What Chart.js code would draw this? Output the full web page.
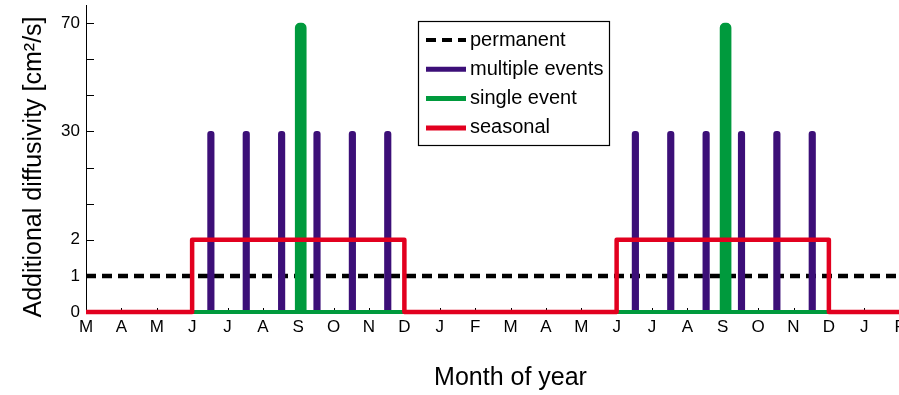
<!DOCTYPE html>
<html lang="en">
<head>
<meta charset="UTF-8">
<title>Additional diffusivity by month</title>
<script src="https://cdn.jsdelivr.net/npm/chart.js"></script>
<style>
  html, body { margin: 0; padding: 0; background: #fff; overflow: hidden; }
  #wrap { position: relative; width: 950px; height: 395px; }
</style>
</head>
<body>
<div id="wrap"><canvas id="diffChart"></canvas></div>
<script>
// two years of months, starting in March
const monthLabels = ['M','A','M','J','J','A','S','O','N','D','J','F',
                     'M','A','M','J','J','A','S','O','N','D','J','F','M'];

// labelled y values and the slot each one takes on the stretched axis
const yTickValues = [0, 1, 2, 30, 70];
const yTickSlots  = [0, 1, 2, 5, 8];

const permanentLevel = 1;

const seasonalStarts = [3, 15];   // June
const seasonalEnds   = [9, 21];   // December
const seasonalLevel  = 2;

const multipleEventMonths = [3.53, 4.53, 5.53, 6.53, 7.53, 8.53, 15.53, 16.53, 17.53, 18.53, 19.53, 20.53];
const multipleEventLevel  = 30;

const singleEventMonths = [6.07, 18.08];   // September
const singleEventLevel  = 70;

const FONT = "'Liberation Sans', Arial, Helvetica, sans-serif";
const xEnd = monthLabels.length - 1;

// piecewise-linear squeeze of diffusivity onto the axis slots
function toSlot(v) {
  for (let i = 1; i < yTickValues.length; i++) {
    if (v <= yTickValues[i]) {
      const a = yTickValues[i - 1], b = yTickValues[i];
      return yTickSlots[i - 1] + (v - a) / (b - a) * (yTickSlots[i] - yTickSlots[i - 1]);
    }
  }
  return yTickSlots[yTickSlots.length - 1];
}
const pt = (x, y) => ({ x: x, y: toSlot(y) });

const permanentData = [pt(0, permanentLevel), pt(xEnd, permanentLevel)];

const seasonalData = [pt(0, 0)];
seasonalStarts.forEach((s, i) => {
  seasonalData.push(pt(s, 0), pt(s, seasonalLevel), pt(seasonalEnds[i], seasonalLevel), pt(seasonalEnds[i], 0));
});
seasonalData.push(pt(xEnd, 0));

const multipleData = multipleEventMonths.map(m => pt(m, multipleEventLevel));
const singleBase = [pt(0, 0), pt(xEnd, 0)];
const singleSpikes = singleEventMonths.map(m => pt(m, singleEventLevel));

const black = '#000000';
const purple = '#3c0f78';
const green = '#009a3d';
const red = '#e2001f';

const lineDefaults = { type: 'line', pointRadius: 0, fill: false, tension: 0, clip: false };
const spikeDefaults = { type: 'bar', grouped: false, borderWidth: 0, borderSkipped: false };

// inward tick marks, the rotated y title and the boxed legend
const axisExtras = {
  id: 'axisExtras',
  beforeDatasetsDraw(chart) {
    const { ctx, chartArea: a, scales } = chart;
    ctx.save();
    ctx.strokeStyle = '#000';
    ctx.lineWidth = 1;
    scales.y.ticks.forEach(t => {
      const y = Math.round(scales.y.getPixelForValue(t.value)) + 0.5;
      ctx.beginPath(); ctx.moveTo(a.left, y); ctx.lineTo(a.left + 8, y); ctx.stroke();
    });
    scales.x.ticks.forEach(t => {
      const x = Math.round(scales.x.getPixelForValue(t.value)) + 0.5;
      ctx.beginPath(); ctx.moveTo(x, a.bottom); ctx.lineTo(x, a.bottom - 4); ctx.stroke();
    });
    ctx.restore();
  },
  afterDraw(chart) {
    const { ctx } = chart;
    ctx.save();
    ctx.translate(34, 167);
    ctx.rotate(-Math.PI / 2);
    ctx.font = '25px ' + FONT;
    ctx.fillStyle = '#000';
    ctx.textAlign = 'center';
    ctx.textBaseline = 'middle';
    ctx.fillText('Additional diffusivity [cm²/s]', 0, 0);
    ctx.restore();

    const items = chart.data.datasets.filter(d => d.inLegend);
    const box = { x: 418, y: 21, w: 191, h: 124 };
    ctx.save();
    ctx.fillStyle = '#fff';
    ctx.fillRect(box.x, box.y, box.w, box.h);
    ctx.strokeStyle = '#000';
    ctx.lineWidth = 1.2;
    ctx.strokeRect(box.x + 0.5, box.y + 0.5, box.w, box.h);
    ctx.font = '20px ' + FONT;
    ctx.textBaseline = 'middle';
    items.forEach((d, i) => {
      const y = box.y + 19 + i * 29.3;
      ctx.beginPath();
      ctx.strokeStyle = d.borderColor;
      ctx.lineWidth = d.legendWidth;
      ctx.setLineDash(d.borderDash || []);
      ctx.moveTo(box.x + 8, y);
      ctx.lineTo(box.x + 48, y);
      ctx.stroke();
      ctx.setLineDash([]);
      ctx.fillStyle = '#000';
      ctx.fillText(d.label, box.x + 52, y);
    });
    ctx.restore();
  }
};

new Chart(document.getElementById('diffChart'), {
  type: 'line',
  data: {
    datasets: [
      Object.assign({ label: 'permanent', data: permanentData, borderColor: black, borderWidth: 4.5,
        borderDash: [10, 6], order: 5, inLegend: true, legendWidth: 4 }, lineDefaults),
      Object.assign({ label: 'multiple events', data: multipleData, backgroundColor: purple, borderColor: purple,
        barThickness: 6.5, borderRadius: { topLeft: 3, topRight: 3, bottomLeft: 0, bottomRight: 0 },
        order: 4, inLegend: true, legendWidth: 5 }, spikeDefaults),
      Object.assign({ label: 'single event', data: singleBase, borderColor: green, borderWidth: 4,
        order: 3, inLegend: true, legendWidth: 5 }, lineDefaults),
      Object.assign({ label: 'single event peak', data: singleSpikes, backgroundColor: green, borderColor: green,
        barThickness: 11, borderRadius: { topLeft: 5, topRight: 5, bottomLeft: 0, bottomRight: 0 },
        order: 2, inLegend: false }, spikeDefaults),
      Object.assign({ label: 'seasonal', data: seasonalData, borderColor: red, borderWidth: 4.5,
        borderJoinStyle: 'round', order: 1, inLegend: true, legendWidth: 5 }, lineDefaults)
    ]
  },
  options: {
    responsive: true,
    maintainAspectRatio: false,
    animation: false,
    layout: { padding: { top: 5, right: 15, left: 0, bottom: 0 } },
    plugins: { legend: { display: false }, tooltip: { enabled: false } },
    scales: {
      x: {
        type: 'linear',
        min: 0,
        max: xEnd,
        offset: false,
        grid: { display: false, drawTicks: false, offset: false },
        border: { display: true, color: '#000', width: 1 },
        afterBuildTicks: s => { s.ticks = monthLabels.map((_, i) => ({ value: i })); },
        afterFit: s => { s.height = 83; s.paddingLeft = 0; s.paddingRight = 0; },
        ticks: {
          autoSkip: false,
          maxRotation: 0,
          padding: 5,
          color: '#000',
          font: { family: FONT, size: 17 },
          callback: v => monthLabels[v]
        },
        title: {
          display: true,
          text: 'Month of year',
          color: '#000',
          font: { family: FONT, size: 25 },
          padding: { top: 0, bottom: 2 }
        }
      },
      y: {
        type: 'linear',
        min: 0,
        max: 8.5,
        grid: { display: false, drawTicks: false },
        border: { display: true, color: '#000', width: 1 },
        afterBuildTicks: s => { s.ticks = [0, 1, 2, 3, 4, 5, 6, 7, 8].map(v => ({ value: v })); },
        afterFit: s => { s.width = 86; s.paddingTop = 0; s.paddingBottom = 0; },
        ticks: {
          padding: 6,
          color: '#000',
          font: { family: FONT, size: 17 },
          callback: v => {
            const i = yTickSlots.indexOf(v);
            return i >= 0 ? String(yTickValues[i]) : '';
          }
        }
      }
    }
  },
  plugins: [axisExtras]
});
</script>
</body>
</html>
